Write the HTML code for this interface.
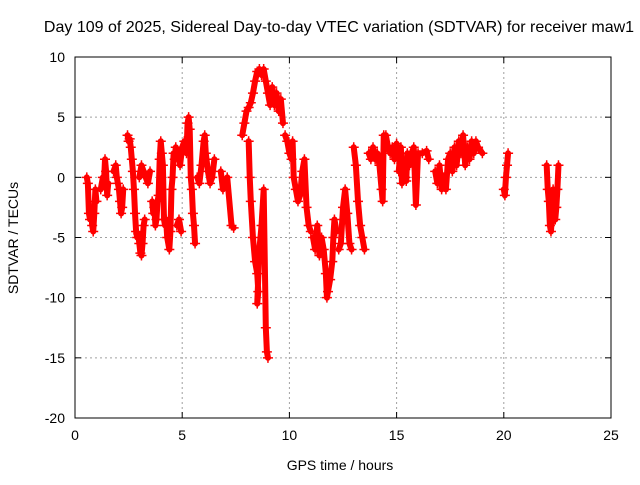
<!DOCTYPE html>
<html><head><meta charset="utf-8"><style>
body{margin:0;background:#fff}
svg text{font-family:"Liberation Sans",sans-serif;font-size:14px;fill:#000}
</style></head><body>
<svg id="chart" width="640" height="480" xmlns="http://www.w3.org/2000/svg">
<rect width="640" height="480" fill="#fff"/>
<text x="339" y="32" text-anchor="middle" style="font-size:16px">Day 109 of 2025, Sidereal Day-to-day VTEC variation (SDTVAR) for receiver maw1</text>
<text transform="translate(18,238) rotate(-90)" text-anchor="middle">SDTVAR / TECUs</text>
<text x="340" y="470" text-anchor="middle">GPS time / hours</text>
<g id="grid"></g><g id="marks"></g><g id="axes"></g>
</svg>
<script>
const xTicks=[0,5,10,15,20,25];
const yTicks=[10,5,0,-5,-10,-15,-20];
const times=[0.55,0.6,0.65,0.7,0.75,0.8,0.85,0.9,0.95,1.0,
1.2,1.3,1.35,1.4,1.45,1.5,1.55,
1.8,1.9,1.95,2.0,2.05,2.1,2.15,2.2,2.25,
2.45,2.5,2.55,2.6,2.65,2.7,2.75,2.8,2.85,2.9,2.95,3.0,3.05,3.1,3.15,3.2,3.25,
3.0,3.1,3.2,3.3,3.4,3.5,
3.6,3.65,3.7,3.75,3.8,3.85,3.9,3.95,4.0,4.05,4.1,4.15,4.2,4.25,4.3,4.4,4.45,4.5,4.55,4.6,4.65,4.7,4.8,4.9,5.0,5.1,
4.75,4.85,4.95,
5.2,5.25,5.3,5.35,5.4,5.45,5.5,5.55,5.6,
5.7,5.8,5.9,6.0,6.05,6.1,6.2,6.3,6.4,6.5,
6.8,6.9,7.0,7.1,7.3,7.4,
7.8,7.9,8.0,8.1,8.2,8.3,8.4,8.5,8.6,8.7,8.8,8.9,9.0,9.1,9.2,9.3,9.4,9.5,9.6,9.7,
8.1,8.15,8.2,8.3,8.4,8.5,8.55,8.5,8.6,8.7,8.8,8.9,8.95,9.0,
9.8,9.9,10.0,10.1,10.15,10.2,10.3,10.4,10.5,10.6,10.7,10.8,10.9,11.0,
11.1,11.2,11.3,11.4,11.5,11.6,11.7,11.75,11.8,11.9,12.0,12.05,12.1,12.2,
12.3,12.4,12.5,12.6,12.7,12.8,12.9,
13.0,13.1,13.2,13.3,13.4,13.5,
13.7,13.8,13.9,14.0,14.1,14.2,14.3,14.35,14.4,14.5,14.6,14.7,14.8,14.9,15.0,
15.1,15.2,15.25,15.3,15.4,15.45,15.5,15.6,15.7,15.8,15.9,16.0,16.2,16.4,16.5,
16.8,16.9,17.0,17.1,17.2,17.3,17.4,17.5,17.6,17.7,17.8,17.9,18.0,18.1,18.2,18.3,18.4,18.5,18.6,18.7,18.8,19.0,
20.0,20.05,20.1,20.15,20.2,
22.0,22.05,22.1,22.15,22.2,22.25,22.3,22.35,22.4,22.45,22.5,22.55];
const values=[0,-0.5,-3,-3.5,-2.5,-4,-4.5,-3,-1,-2,
-1,0,-0.5,1.5,0.5,-1.5,-0.5,
0.5,1,0,-0.5,-1,-2,-3,-2.5,-1,
3.5,3,3.2,2.5,1.5,0.5,-1,-3,-4.5,-5,-4.7,-5.5,-6.3,-6.5,-5.5,-4,-3.5,
0,1,0.5,0,-0.5,0.5,
-2,-3,-2.5,-4,-3.5,-2,-1.5,1.5,3,2,1,-3.5,-4,-3.5,-5,-6,-4.5,-1,0,2,1.5,2.5,2,1,2.5,3,
-4,-3.5,-4.5,
2,4.5,5,4,0,-1,-3,-4,-5.5,
0,-0.5,1,3,3.5,2,0.5,-0.5,0,1.5,
0.5,-1,-0.5,0,-4,-4.2,
3.5,4.5,5.5,5.8,6.2,7,8,8.8,9,8.5,9,8,7,6,7.5,6,7,5.5,6.5,4.5,
3,0,-2,-5,-7,-8,-9.5,-10.5,-6,-4,-1,-12.5,-14.5,-15,
3.5,3,2,1.5,3,0,-1,-2,-1.5,0.5,1.5,-2.5,-4,-4.5,
-5,-6,-4,-6.5,-5,-6,-8,-10,-9.5,-8.5,-7,-5,-3.5,-4.5,
-6,-5.5,-2.5,-1,-3,-5.5,-6,
2.5,1,-2,-4,-5,-6,
2,1.5,2.5,1.5,2,1,-1,-2,3.5,3.5,2.5,2,2.5,1.5,2.8,
0.5,2.5,-0.5,1.5,0,-0.3,2,1,2,2.5,-2.3,2,2,2.2,1.5,
0.5,-0.5,1,-1,0,-1,1.5,2,0.5,2.5,1,3,2,3.5,1,2.5,1.5,3,2,3,2.5,2,
-1,-1.5,0,1,2,
1,-1,-2,-4,-4.5,-3,-1,-2.5,-3.5,-2.5,-1,1];
const tracks=[1,1,1,1,1,1,1,1,1,1,
2,2,2,2,2,2,2,
3,3,3,3,3,3,3,3,3,
4,4,4,4,4,4,4,4,4,4,4,4,4,4,4,4,4,
5,5,5,5,5,5,
6,6,6,6,6,6,6,6,6,6,6,6,6,6,6,6,6,6,6,6,6,6,6,6,6,6,
7,7,7,
8,8,8,8,8,8,8,8,8,
9,9,9,9,9,9,9,9,9,9,
10,10,10,10,10,10,
11,11,11,11,11,11,11,11,11,11,11,11,11,11,11,11,11,11,11,11,
12,12,12,12,12,12,12,12,12,12,12,12,12,12,
13,13,13,13,13,13,13,13,13,13,13,13,13,13,
14,14,14,14,14,14,14,14,14,14,14,14,14,14,
15,15,15,15,15,15,15,
16,16,16,16,16,16,
17,17,17,17,17,17,17,17,17,17,17,17,17,17,17,
18,18,18,18,18,18,18,18,18,18,18,18,18,18,18,
19,19,19,19,19,19,19,19,19,19,19,19,19,19,19,19,19,19,19,19,19,19,
20,20,20,20,20,
21,21,21,21,21,21,21,21,21,21,21,21];
const L=75,R=611,T=57,B=418;
const xs=v=>L+(v-0)/(25-0)*(R-L);
const ys=v=>B-(v+20)/30*(B-T);
const NS="http://www.w3.org/2000/svg";
function mk(tag,attrs,parent){const e=document.createElementNS(NS,tag);for(const k in attrs)e.setAttribute(k,attrs[k]);parent.appendChild(e);return e;}
const grid=document.getElementById('grid'),marks=document.getElementById('marks'),axes=document.getElementById('axes');
xTicks.forEach(t=>{
 if(t>0&&t<25){const g=mk('line',{x1:xs(t),x2:xs(t),y1:T,y2:B,stroke:'#a0a0a0','stroke-dasharray':'2,3'},grid);
 
 }
 mk('line',{x1:xs(t),x2:xs(t),y1:B,y2:B-6,stroke:'#000'},axes);
 mk('line',{x1:xs(t),x2:xs(t),y1:T,y2:T+6,stroke:'#000'},axes);
 const tx=mk('text',{x:xs(t),y:B+22,'text-anchor':'middle'},axes);tx.textContent=t;
 
 
});
yTicks.forEach(t=>{
 if(t>-20&&t<10){const g=mk('line',{x1:L,x2:R,y1:ys(t),y2:ys(t),stroke:'#a0a0a0','stroke-dasharray':'2,3'},grid);
 
 }
 mk('line',{x1:L,x2:L+6,y1:ys(t),y2:ys(t),stroke:'#000'},axes);
 mk('line',{x1:R,x2:R-6,y1:ys(t),y2:ys(t),stroke:'#000'},axes);
 const tx=mk('text',{x:L-10,y:ys(t)+5,'text-anchor':'end'},axes);tx.textContent=t;
 
 
});
const frame=mk('rect',{x:L,y:T,width:R-L,height:B-T,fill:'none',stroke:'#000'},axes);


let cur=null,pts=[];
function flush(){if(pts.length>1){const p=mk('polyline',{points:pts.join(' '),fill:'none',stroke:'#ff0000','stroke-width':6,'stroke-linejoin':'round','stroke-linecap':'round'},marks);
 
 }pts=[];}
times.forEach((t,i)=>{if(tracks[i]!==cur){flush();cur=tracks[i];}pts.push(xs(t)+','+ys(values[i]));});
flush();
times.forEach((t,i)=>{
 const x=xs(t),y=ys(values[i]);
 const p=mk('path',{d:`M${x-5},${y}H${x+5}M${x},${y-5}V${y+5}`,stroke:'#ff0000','stroke-width':1.5},marks);
 
 
});
</script>
</body></html>
